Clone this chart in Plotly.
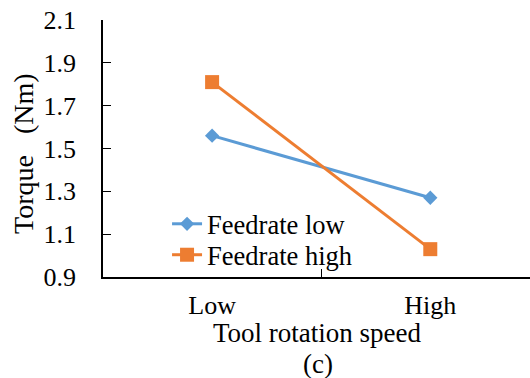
import plotly.graph_objects as go

# Interaction plot: torque vs. tool rotation speed for two feedrates
rotation_speed = ["Low", "High"]
torque_feed_low = [1.56, 1.27]
torque_feed_high = [1.81, 1.03]
y_ticks = [0.9, 1.1, 1.3, 1.5, 1.7, 1.9, 2.1]

FONT = "Liberation Serif"
BLUE = "#5B9BD5"
ORANGE = "#ED7D31"

fig = go.Figure()
fig.add_trace(go.Scatter(
    x=rotation_speed, y=torque_feed_low, name="Feedrate low",
    mode="lines+markers",
    line=dict(color=BLUE, width=3),
    marker=dict(symbol="diamond", size=11, color=BLUE),
    legend="legend",
))
fig.add_trace(go.Scatter(
    x=rotation_speed, y=torque_feed_high, name="Feedrate high",
    mode="lines+markers",
    line=dict(color=ORANGE, width=3),
    marker=dict(symbol="square", size=14, color=ORANGE),
    legend="legend2",
))

legend_style = dict(
    xanchor="left", yanchor="middle",
    bgcolor="rgba(0,0,0,0)", borderwidth=0,
    font=dict(family=FONT, size=26.5, color="black"),
)

fig.update_layout(
    width=530, height=378,
    margin=dict(l=103, r=0, t=20, b=101, pad=0),
    paper_bgcolor="white", plot_bgcolor="white",
    font=dict(family=FONT, size=26, color="black"),
    showlegend=True,
    legend=dict(x=0.15, y=0.206, **legend_style),
    legend2=dict(x=0.15, y=0.0856, **legend_style),
    xaxis=dict(
        type="category", range=[-0.5, 1.457],
        tickson="boundaries", ticks="inside", ticklen=8, tickwidth=1.3,
        tickcolor="black",
        showline=True, linecolor="black", linewidth=1.5,
        showgrid=False, zeroline=False,
        tickfont=dict(family=FONT, size=26, color="black"),
        ticklabelstandoff=4,
    ),
    yaxis=dict(
        range=[0.9, 2.1], tickvals=y_ticks,
        ticktext=[f"{v:.1f}" for v in y_ticks],
        ticks="inside", ticklen=8, tickwidth=1.3, tickcolor="black",
        showline=True, linecolor="black", linewidth=1.5,
        showgrid=False, zeroline=False,
        tickfont=dict(family=FONT, size=26, color="black"),
        ticklabelstandoff=20,
    ),
    annotations=[
        dict(text="Torque\u00a0\u00a0\u00a0(Nm)", textangle=-90,
             xref="paper", yref="paper", x=-0.185, y=0.479,
             xanchor="center", yanchor="middle", showarrow=False,
             font=dict(family=FONT, size=28, color="black")),
        dict(text="Tool rotation speed",
             xref="paper", yref="paper", x=0.503, y=-0.218,
             xanchor="center", yanchor="middle", showarrow=False,
             font=dict(family=FONT, size=27, color="black")),
        dict(text="(c)",
             xref="paper", yref="paper", x=0.503, y=-0.338,
             xanchor="center", yanchor="middle", showarrow=False,
             font=dict(family=FONT, size=27, color="black")),
    ],
)

fig.write_html("out.html")
